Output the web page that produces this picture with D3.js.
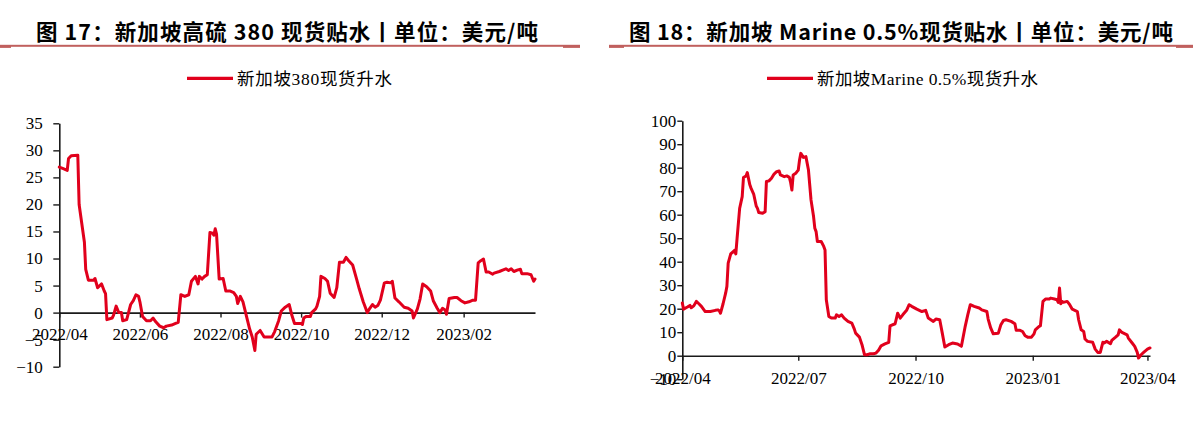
<!DOCTYPE html>
<html><head><meta charset="utf-8">
<script src="https://cdn.jsdelivr.net/npm/d3@7"></script>
<style>html,body{margin:0;padding:0;background:#fff;} svg{display:block;}</style>
</head><body>
<svg id="c" width="1198" height="425"></svg>
<script>
// ---------- DATA ----------
const leftTitle = "图 17：新加坡高硫 380 现货贴水丨单位：美元/吨";
const rightTitle = "图 18：新加坡 Marine 0.5%现货贴水丨单位：美元/吨";
const leftSeriesName = "新加坡380现货升水";
const rightSeriesName = "新加坡Marine 0.5%现货升水";

const leftDates = ["2022-04-01","2022-04-04","2022-04-07","2022-04-08","2022-04-10","2022-04-15","2022-04-16","2022-04-20","2022-04-21","2022-04-23","2022-04-27","2022-04-28","2022-04-30","2022-05-03","2022-05-05","2022-05-06","2022-05-07","2022-05-11","2022-05-12","2022-05-14","2022-05-16","2022-05-18","2022-05-19","2022-05-22","2022-05-25","2022-05-27","2022-05-29","2022-05-31","2022-06-01","2022-06-03","2022-06-06","2022-06-09","2022-06-11","2022-06-13","2022-06-16","2022-06-19","2022-06-21","2022-06-25","2022-06-28","2022-06-30","2022-07-02","2022-07-05","2022-07-08","2022-07-10","2022-07-13","2022-07-15","2022-07-16","2022-07-18","2022-07-20","2022-07-22","2022-07-24","2022-07-26","2022-07-27","2022-07-28","2022-07-29","2022-07-31","2022-08-03","2022-08-05","2022-08-08","2022-08-11","2022-08-13","2022-08-14","2022-08-16","2022-08-18","2022-08-21","2022-08-23","2022-08-25","2022-08-27","2022-08-28","2022-08-31","2022-09-03","2022-09-05","2022-09-09","2022-09-11","2022-09-14","2022-09-16","2022-09-19","2022-09-22","2022-09-24","2022-09-26","2022-10-01","2022-10-02","2022-10-03","2022-10-05","2022-10-08","2022-10-09","2022-10-12","2022-10-13","2022-10-15","2022-10-16","2022-10-19","2022-10-21","2022-10-23","2022-10-26","2022-10-28","2022-10-30","2022-11-02","2022-11-04","2022-11-06","2022-11-09","2022-11-12","2022-11-14","2022-11-17","2022-11-19","2022-11-20","2022-11-22","2022-11-24","2022-11-26","2022-11-28","2022-11-30","2022-12-03","2022-12-05","2022-12-08","2022-12-09","2022-12-11","2022-12-14","2022-12-16","2022-12-18","2022-12-21","2022-12-24","2022-12-25","2022-12-28","2022-12-30","2023-01-01","2023-01-04","2023-01-07","2023-01-09","2023-01-12","2023-01-14","2023-01-16","2023-01-18","2023-01-19","2023-01-21","2023-01-25","2023-01-27","2023-01-30","2023-02-02","2023-02-05","2023-02-08","2023-02-10","2023-02-12","2023-02-14","2023-02-16","2023-02-18","2023-02-20","2023-02-23","2023-02-24","2023-02-28","2023-03-03","2023-03-05","2023-03-07","2023-03-09","2023-03-11","2023-03-14","2023-03-16","2023-03-17","2023-03-21","2023-03-24","2023-03-26","2023-03-27"];
const leftValues = [26.9,26.6,26.3,28.5,29.0,29.1,20,13,8,6,
6,6.3,4.6,5.3,4,3.5,-1.3,-1,-0.5,1.2,
0,0,-1.5,-1.3,1.5,2.2,3.3,3,2,-0.7,
-1.5,-1.5,-1,-1.7,-2.5,-2.8,-2.5,-2.3,-2,-1.8,
3.3,3,3.3,5.8,6.7,5.3,6.7,6.2,6.7,7,
14.8,14.7,14.3,15.5,14.5,6.2,6.3,4,4,3.7,
3,1.7,3,2,-1,-3,-4.5,-7,-4,-3.3,
-4.5,-4.5,-4.5,-3.5,-1.5,0.3,1,1.5,-0.5,-2,
-2,-2.2,-1,-0.7,-0.7,0,0.7,1.2,3,6.7,
6.3,5.8,3.6,2.8,4.6,9.3,9.3,10.2,9.6,8.8,
6.2,4.4,2,0.7,0,0.8,1.5,1,1.3,2.3,
5.5,5.6,5.5,5.8,2.7,2,1.5,1,0.8,0.3,
-1,0.7,2.5,5.3,4.8,4,2.2,0.8,0,0.8,
0.5,-0.3,2.6,2.8,2.8,2.2,1.8,2,2.3,2.3,
9.2,9.6,9.9,7.5,7.5,7.1,7.3,7.6,7.9,8.1,
7.8,8.1,7.6,7.9,8,7.2,7.2,7,5.8,6.2];

const rightDates = ["2022-04-01","2022-04-02","2022-04-05","2022-04-07","2022-04-08","2022-04-10","2022-04-12","2022-04-14","2022-04-16","2022-04-19",
"2022-04-23","2022-04-27","2022-04-29","2022-04-30","2022-05-01","2022-05-03","2022-05-05","2022-05-06","2022-05-07","2022-05-09",
"2022-05-11","2022-05-12","2022-05-13","2022-05-14","2022-05-16","2022-05-18","2022-05-19","2022-05-21","2022-05-22","2022-05-24",
"2022-05-25","2022-05-27","2022-05-29","2022-05-30","2022-05-31","2022-06-03","2022-06-05","2022-06-06","2022-06-08","2022-06-10",
"2022-06-12","2022-06-14","2022-06-16","2022-06-17","2022-06-20","2022-06-22","2022-06-24","2022-06-25","2022-06-26","2022-06-27",
"2022-06-29","2022-06-30","2022-07-01","2022-07-02","2022-07-03","2022-07-05","2022-07-07","2022-07-09","2022-07-11","2022-07-13",
"2022-07-14","2022-07-15","2022-07-16","2022-07-19","2022-07-21","2022-07-22","2022-07-23","2022-07-25","2022-07-27","2022-07-30",
"2022-07-31","2022-08-02","2022-08-04","2022-08-06","2022-08-09","2022-08-12","2022-08-14","2022-08-15","2022-08-18","2022-08-20",
"2022-08-22","2022-08-24","2022-08-26","2022-08-29","2022-08-31","2022-09-02","2022-09-04","2022-09-07","2022-09-10","2022-09-11",
"2022-09-15","2022-09-17","2022-09-19","2022-09-21","2022-09-24","2022-09-26","2022-09-28","2022-10-02","2022-10-06","2022-10-09",
"2022-10-11","2022-10-13","2022-10-15","2022-10-17","2022-10-20","2022-10-22","2022-10-24","2022-10-27","2022-10-30","2022-11-03",
"2022-11-06","2022-11-09","2022-11-11","2022-11-13","2022-11-16","2022-11-20","2022-11-22","2022-11-26","2022-11-27","2022-11-29",
"2022-12-01","2022-12-05","2022-12-07","2022-12-09","2022-12-11","2022-12-15","2022-12-18","2022-12-19","2022-12-22","2022-12-24",
"2022-12-26","2022-12-28","2022-12-31","2023-01-02","2023-01-03","2023-01-06","2023-01-07","2023-01-09","2023-01-11","2023-01-14",
"2023-01-15","2023-01-18","2023-01-20","2023-01-21","2023-01-22","2023-01-23","2023-01-24","2023-01-25","2023-01-28","2023-01-30",
"2023-02-01","2023-02-03","2023-02-05","2023-02-06","2023-02-08","2023-02-10","2023-02-11","2023-02-13","2023-02-17","2023-02-19",
"2023-02-21","2023-02-23","2023-02-25","2023-02-26","2023-02-28","2023-03-03","2023-03-04","2023-03-07","2023-03-09","2023-03-10",
"2023-03-12","2023-03-16","2023-03-17","2023-03-20","2023-03-22","2023-03-24","2023-03-25","2023-03-27","2023-03-29","2023-04-01",
"2023-04-03"];
const rightValues = [22.4,19.8,20.7,21.4,20.4,21.2,23.1,22.1,21,18.8,
18.8,19.3,19.5,19.1,18.1,22.1,26.6,29.5,39.4,43.3,
44.3,44.8,43.3,50,62.7,67.7,75.8,76.5,77.9,72.7,
71.2,68.8,63.7,62.7,60.9,60.6,61.3,74.1,74.4,75.5,
77.3,78.3,78.6,76.9,76.2,76.5,75.9,73.7,70.5,76.9,
77.6,78.3,79,83.3,86.1,84.4,84.7,79,66.3,59.2,
54.2,52.8,48.6,48.6,46.5,45,23.8,16.7,16,16,
17.4,16.7,17.4,16,14.6,13.9,11.3,9.6,7.9,4.7,
0.4,0.4,0.8,0.8,1.1,2.3,4.2,5,5.7,12.7,
13.6,18.1,16,17.4,19.3,21.7,21,19.8,18.8,19.3,
16,15.3,14.6,15.6,15.3,9.6,3.7,4.7,5.4,5,
4,12.5,17.4,21.7,21,20.3,19.5,18.8,15.6,11.8,
9.3,9.6,13.2,15,15.3,14.6,13.6,10.8,10.8,10.3,
8.5,7.9,7.9,9.3,11,12.5,12.7,23.1,24.1,24.1,
24.5,24.1,23.8,22.7,28.8,22.1,23.1,22.7,23.1,21.7,
19.8,19.3,18.8,15.3,11,10.3,7.1,6.1,5.7,2.8,
1.4,1.4,5.7,5.4,6.1,5.1,6.5,7.9,8.9,11,
9.9,8.9,7.5,5.4,4,1.4,-1,0.4,1.4,2.8,
3.3];

const leftXTicks = ["2022-04-01","2022-06-01","2022-08-01","2022-10-01","2022-12-01","2023-02-01"];
const rightXTicks = ["2022-04-01","2022-07-01","2022-10-01","2023-01-01","2023-04-01"];
const leftYTicks = [-10,-5,0,5,10,15,20,25,30,35];
const rightYTicks = [-10,0,10,20,30,40,50,60,70,80,90,100];

// ---------- DRAW ----------
const parse = d3.timeParse("%Y-%m-%d");
const fmt = d3.timeFormat("%Y/%m");
const svg = d3.select("#c");
const RED = "#e1001c";
const SEP = "#c0605e";
const serif = "'Liberation Serif','Times New Roman','Noto Sans CJK SC',serif";
const cjkBold = "'Noto Sans CJK SC','Noto Sans',sans-serif";

function header(cfg) {
  // separator line
  svg.append("rect").attr("x", cfg.lineX0).attr("y", 44.8).attr("width", cfg.lineX1 - cfg.lineX0).attr("height", 2).attr("fill", SEP);
  svg.append("rect").attr("x", cfg.lineX0).attr("y", 45.3).attr("width", cfg.capW).attr("height", 2.6).attr("fill", SEP);
  svg.append("rect").attr("x", cfg.lineX1 - cfg.capW2).attr("y", 45.3).attr("width", cfg.capW2).attr("height", 2.6).attr("fill", SEP);
  // title
  svg.append("text").attr("x", cfg.titleX).attr("y", 40)
    .attr("font-family", cjkBold).attr("font-weight", 700).attr("font-size", 21.5)
    .attr("fill", "#000")
    .attr("textLength", cfg.titleW).attr("lengthAdjust", "spacing")
    .text(cfg.title);
  // legend
  svg.append("line").attr("x1", cfg.legX).attr("x2", cfg.legX + 46).attr("y1", 78.3).attr("y2", 78.3)
    .attr("stroke", RED).attr("stroke-width", 3.3);
  svg.append("text").attr("x", cfg.legX + 50).attr("y", 84.5)
    .attr("font-family", serif).attr("font-size", 17.5).attr("fill", "#000")
    .attr("textLength", cfg.legW).attr("lengthAdjust", "spacing")
    .text(cfg.name);
}

function panel(cfg) {
  const x = d3.scaleTime().domain(cfg.xDomain.map(parse)).range(cfg.xRange);
  const y = d3.scaleLinear().domain(cfg.yDomain).range(cfg.yRange);
  const g = svg.append("g");

  const yAxis = d3.axisLeft(y).tickValues(cfg.yTicks).tickSize(cfg.yTickSize).tickSizeOuter(0).tickPadding(cfg.yPad).tickFormat(d3.format("d"));
  const ya = g.append("g").attr("transform", `translate(${cfg.xRange[0]},0)`).call(yAxis);
  const xAxis = d3.axisBottom(x).tickValues(cfg.xTicks.map(parse)).tickSize(5).tickSizeOuter(0).tickPadding(cfg.xPad).tickFormat(fmt);
  const xa = g.append("g").attr("transform", `translate(0,${y(0)})`).call(xAxis);

  [ya, xa].forEach(a => {
    a.select(".domain").attr("stroke", "#1a1a1a").attr("stroke-width", 1.6);
    a.selectAll(".tick line").attr("stroke", "#1a1a1a").attr("stroke-width", 1.4);
    a.selectAll(".tick text").attr("font-family", serif).attr("font-size", 17).attr("fill", "#000");
  });

  const data = d3.zip(cfg.dates, cfg.values).map(([d, v]) => ({ d: parse(d), v }));
  const line = d3.line().x(p => x(p.d)).y(p => y(p.v));
  g.append("path").datum(data).attr("d", line)
    .attr("fill", "none").attr("stroke", RED).attr("stroke-width", 3)
    .attr("stroke-linejoin", "round").attr("stroke-linecap", "round");
}

header({ title: leftTitle, titleX: 36, titleW: 502, lineX0: 0, lineX1: 580, capW: 11, capW2: 17,
  name: leftSeriesName, legX: 187, legW: 155 });
header({ title: rightTitle, titleX: 629, titleW: 544, lineX0: 609, lineX1: 1193, capW: 15, capW2: 17,
  name: rightSeriesName, legX: 767, legW: 221 });

panel({ dates: leftDates, values: leftValues,
  xDomain: ["2022-04-01", "2023-03-27"], xRange: [59.3, 535],
  yDomain: [-10, 35], yRange: [366.7, 123.3],
  xTicks: leftXTicks, yTicks: leftYTicks, yTickSize: 6, yPad: 10.5, xPad: 9.9 });

panel({ dates: rightDates, values: rightValues,
  xDomain: ["2022-04-01", "2023-04-03"], xRange: [682.3, 1150],
  yDomain: [-10, 100], yRange: [379.2, 120.7],
  xTicks: rightXTicks, yTicks: rightYTicks, yTickSize: 5, yPad: 1, xPad: 10.9 });
</script>
</body></html>
